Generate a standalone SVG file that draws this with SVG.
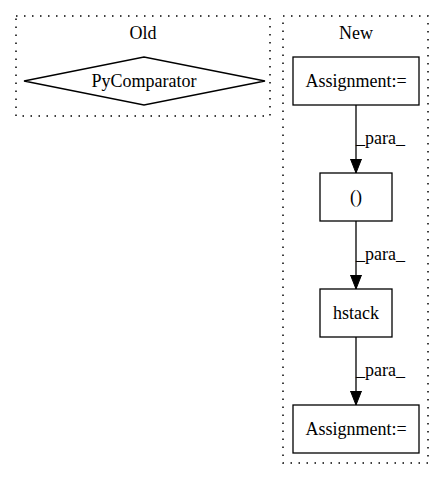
<svg xmlns="http://www.w3.org/2000/svg" width="445" height="480" viewBox="0 0 445 480">
<defs>
<style>
text{font-family:"Liberation Serif","Times New Roman",serif;font-size:18px;fill:#000}
.c{fill:none;stroke:#000;stroke-dasharray:1.5 6.5;stroke-width:1.5}
.n{fill:#fff;stroke:#000;stroke-width:1.3}
.e{stroke:#000;stroke-width:1.3;fill:none}
</style>
<marker id="ah" markerWidth="14" markerHeight="12" refX="14" refY="6" orient="auto" markerUnits="userSpaceOnUse">
<path d="M0,0.5 L14,6 L0,11.5 Z" fill="#000" stroke="#000"/>
</marker>
</defs>
<rect width="445" height="480" fill="#fff"/>
<g id="cluster_old">
<rect class="c" x="16" y="16" width="254" height="100"/>
<text x="143" y="39" text-anchor="middle">Old</text>
</g>
<g id="cluster_new">
<rect class="c" x="283" y="16" width="145" height="447"/>
<text x="356" y="39" text-anchor="middle">New</text>
</g>
<g id="node_pycomparator">
<polygon class="n" points="24,81 144,57 265,81 144,105"/>
<text x="144" y="87" text-anchor="middle">PyComparator</text>
</g>
<g id="node_assign1">
<rect class="n" x="293" y="57" width="126" height="48"/>
<text x="356" y="87" text-anchor="middle">Assignment:=</text>
</g>
<g id="node_paren">
<rect class="n" x="320" y="173" width="72" height="48"/>
<text x="356" y="203" text-anchor="middle">()</text>
</g>
<g id="node_hstack">
<rect class="n" x="320" y="289" width="72" height="48"/>
<text x="356" y="319" text-anchor="middle">hstack</text>
</g>
<g id="node_assign2">
<rect class="n" x="293" y="405" width="126" height="48"/>
<text x="356" y="435" text-anchor="middle">Assignment:=</text>
</g>
<g id="edges">
<line class="e" x1="356" y1="105" x2="356" y2="173" marker-end="url(#ah)"/>
<text x="356" y="144">_para_</text>
<line class="e" x1="356" y1="221" x2="356" y2="289" marker-end="url(#ah)"/>
<text x="356" y="260">_para_</text>
<line class="e" x1="356" y1="337" x2="356" y2="405" marker-end="url(#ah)"/>
<text x="356" y="376">_para_</text>
</g>
</svg>
